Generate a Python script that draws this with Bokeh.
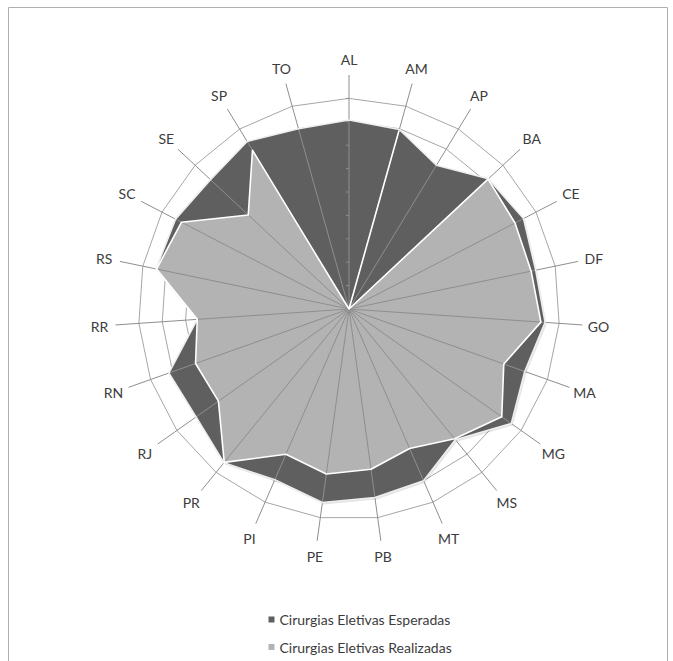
import numpy as np
from bokeh.plotting import figure
from bokeh.models import Range1d
from bokeh.core.properties import value
from bokeh.embed import file_html
from bokeh.resources import INLINE

# ---- data ----
categories = ["AL", "AM", "AP", "BA", "CE", "DF", "GO", "MA", "MG", "MS", "MT", "PB",
              "PE", "PI", "PR", "RJ", "RN", "RR", "RS", "SC", "SE", "SP", "TO"]
esperadas = [8.08, 7.97, 7.19, 8.15, 8.40, 8.15, 8.40, 7.97, 8.49, 7.20, 8.00, 8.13,
             8.35, 7.96, 8.47, 8.00, 8.17, 6.50, 8.42, 8.35, 8.10, 8.38, 8.00]
realizadas = [0.00, 7.90, 0.00, 8.13, 7.99, 7.95, 8.22, 7.02, 7.99, 7.15, 6.50, 6.91,
              7.12, 6.77, 8.45, 6.83, 6.96, 6.50, 8.40, 8.06, 5.89, 7.94, 0.00]
series_names = ["Cirurgias Eletivas Esperadas", "Cirurgias Eletivas Realizadas"]
ring_levels = [1, 2, 3, 4, 5, 6, 7, 8, 9]
axis_max = 10

# ---- layout ----
W, H = 673, 661
CX, CY = 348.5, 308.5
UNIT = 23.4  # pixels per value unit

def sx(px):
    return (px - CX) / UNIT

def sy(py):
    return (CY - py) / UNIT

DARK = "#5f5f5f"
LIGHT = "#b3b3b3"
GRID = "#a6a6a6"
SPOKE = "#8e8e8e"
TEXT = "#3c3c3c"

p = figure(width=W, height=H, output_backend="svg", toolbar_location=None,
           x_range=Range1d(sx(0), sx(W)), y_range=Range1d(sy(H), sy(0)),
           x_axis_type=None, y_axis_type=None, min_border=0,
           outline_line_color=None, background_fill_color="white")
p.grid.visible = False

n = len(categories)
theta = np.arange(n) * 2 * np.pi / n
ux, uy = np.sin(theta), np.cos(theta)

def closed(vals):
    v = np.asarray(vals, dtype=float)
    xs = np.append(v * ux, v[0] * ux[0])
    ys = np.append(v * uy, v[0] * uy[0])
    return xs, ys

# rings
for lv in ring_levels:
    xs, ys = closed([lv] * n)
    p.line(xs, ys, line_color=GRID, line_width=1)

# shadows
off_x, off_y = 1.5 / UNIT, -2.0 / UNIT
for vals in (esperadas, realizadas):
    xs, ys = closed(vals)
    p.patch(xs + off_x, ys + off_y, fill_color="black", fill_alpha=0.10, line_color=None)

# series fills
xe, ye = closed(esperadas)
xr, yr = closed(realizadas)
p.patch(xe, ye, fill_color=DARK, line_color=None)
p.patch(xr, yr, fill_color=LIGHT, line_color=None)

# spokes
p.segment(x0=np.zeros(n), y0=np.zeros(n), x1=axis_max * ux, y1=axis_max * uy,
          line_color=SPOKE, line_width=1)

# tick marks on the first axis
p.segment(x0=[-3 / UNIT] * len(ring_levels), y0=ring_levels,
          x1=[0] * len(ring_levels), y1=ring_levels, line_color=SPOKE, line_width=1)

# series outlines
p.line(xe, ye, line_color="#eeeeee", line_width=1.6, line_join="round")
p.line(xr, yr, line_color="#ffffff", line_width=1.6, line_join="round")

# category labels
r_lab = 250 / UNIT
p.text(x=r_lab * ux, y=r_lab * uy, text=categories, text_align="center",
       text_baseline="middle", text_font=value("Lato"), text_font_size="14px",
       text_color=TEXT)

# legend
leg_y = [sy(619), sy(646.5)]
p.rect(x=[sx(271)] * 2, y=leg_y, width=6 / UNIT, height=6 / UNIT,
       fill_color=[DARK, LIGHT], line_color=None)
p.text(x=[sx(279)] * 2, y=leg_y, text=series_names, text_align="left",
       text_baseline="middle", text_font=value("Lato"), text_font_size="14px",
       text_color=TEXT)

# chart border
p.line([sx(8), sx(8), sx(667), sx(667)], [sy(670), sy(7), sy(7), sy(670)],
       line_color="#b0b0b0", line_width=1)

open("out.html", "w").write(file_html(p, INLINE))
